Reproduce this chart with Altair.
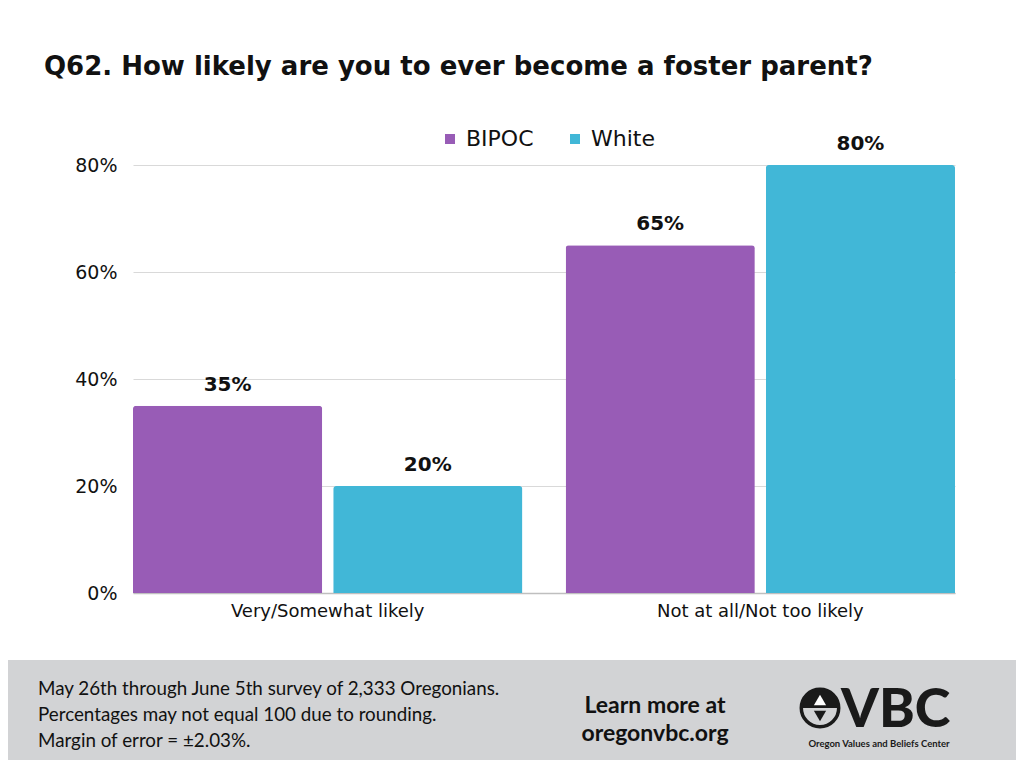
import altair as alt
import pandas as pd

categories = ["Very/Somewhat likely", "Not at all/Not too likely"]
groups = ["BIPOC", "White"]
bipoc = [0.35, 0.65]
white = [0.20, 0.80]
colors = ["#985CB6", "#41B7D7"]
y_ticks = [0, 0.2, 0.4, 0.6, 0.8]

title_text = "Q62. How likely are you to ever become a foster parent?"
footer_left = "May 26th through June 5th survey of 2,333 Oregonians.\nPercentages may not equal 100 due to rounding.\nMargin of error = \u00b12.03%."
footer_mid = "Learn more at\noregonvbc.org"

rows = []
for i, c in enumerate(categories):
    rows.append({"category": c, "group": "BIPOC", "value": bipoc[i]})
    rows.append({"category": c, "group": "White", "value": white[i]})
df = pd.DataFrame(rows)

FONT = "DejaVu Sans"
FOOT = "Lato"
W, H = 822, 428

base = alt.Chart(df).encode(
    x=alt.X("category:N", sort=categories,
            scale=alt.Scale(paddingInner=0.1, paddingOuter=0),
            axis=alt.Axis(title=None, labelAngle=0, labelFontSize=18, labelFont=FONT,
                          labelColor="#111111", labelPadding=9, ticks=False, labelLimit=0,
                          domainColor="#BFBFBF", domainWidth=1.5)),
    xOffset=alt.XOffset("group:N", sort=groups, scale=alt.Scale(paddingInner=0.055)),
    y=alt.Y("value:Q", scale=alt.Scale(domain=[0, 0.8]),
            axis=alt.Axis(title=None, format=".0%", values=y_ticks, labelFontSize=19,
                          labelFont=FONT, labelColor="#111111", labelPadding=16,
                          ticks=False, domain=False, gridColor="#D9D9D9", gridWidth=1)),
)

bars = base.mark_bar(cornerRadiusTopLeft=3, cornerRadiusTopRight=3).encode(
    color=alt.Color("group:N", sort=groups,
                    scale=alt.Scale(domain=groups, range=colors),
                    legend=alt.Legend(title=None, orient="none", direction="horizontal",
                                      legendX=306, legendY=-37, padding=0,
                                      symbolType="square", symbolSize=100,
                                      symbolStrokeWidth=0, labelFontSize=22,
                                      labelFont=FONT, labelColor="#111111",
                                      labelOffset=5, columnPadding=30))
)

labels = base.mark_text(baseline="alphabetic", dy=-15, fontSize=20, fontWeight="bold",
                        font=FONT, color="#111111").encode(
    text=alt.Text("value:Q", format=".0%")
)

one = pd.DataFrame({"k": [0]})

title = alt.Chart(one).mark_text(align="left", baseline="alphabetic", fontSize=26,
                                 fontWeight="bold", font=FONT, color="#111111").encode(
    x=alt.value(-89), y=alt.value(-90), text=alt.value(title_text))

footer_bg = alt.Chart(one).mark_rect(color="#D2D3D5").encode(
    x=alt.value(-125), x2=alt.value(891), y=alt.value(495), y2=alt.value(603))

f_left = alt.Chart(one).mark_text(align="left", baseline="alphabetic", fontSize=18.8,
                                  font=FOOT, color="#111111", lineBreak="\n",
                                  lineHeight=26).encode(
    x=alt.value(-95), y=alt.value(530), text=alt.value(footer_left))

f_mid = alt.Chart(one).mark_text(align="center", baseline="alphabetic", fontSize=23,
                                 fontWeight="bold", font=FOOT, color="#111111",
                                 lineBreak="\n", lineHeight=28).encode(
    x=alt.value(522), y=alt.value(548), text=alt.value(footer_mid))

logo_top = alt.Chart(one).mark_arc(radius=18, theta=4.712, theta2=7.854,
                                   color="#1A1A1A").encode(
    x=alt.value(687), y=alt.value(543))
logo_circle = alt.Chart(one).mark_point(shape="circle", size=1400, filled=False,
                                        strokeWidth=3.5, color="#1A1A1A", opacity=1).encode(
    x=alt.value(687), y=alt.value(543))
logo_tree = alt.Chart(one).mark_point(shape="triangle-up", size=150, filled=True,
                                      color="white", opacity=1).encode(
    x=alt.value(687), y=alt.value(535))
logo_tree2 = alt.Chart(one).mark_point(shape="triangle-down", size=150, filled=True,
                                       color="#1A1A1A", opacity=1).encode(
    x=alt.value(687), y=alt.value(551))
logo_vbc = alt.Chart(one).mark_text(align="left", baseline="alphabetic", fontSize=54,
                                    fontWeight=900, font=FOOT, color="#1A1A1A").encode(
    x=alt.value(708), y=alt.value(562), text=alt.value("VBC"))
logo_tag = alt.Chart(one).mark_text(align="center", baseline="alphabetic", fontSize=9.5,
                                    fontWeight="bold", font=FOOT, color="#1A1A1A").encode(
    x=alt.value(746), y=alt.value(582), text=alt.value("Oregon Values and Beliefs Center"))

chart = alt.layer(
    bars, labels, title, footer_bg, f_left, f_mid,
    logo_top, logo_circle, logo_tree, logo_tree2, logo_vbc, logo_tag
).properties(
    width=W, height=H,
    autosize=alt.AutoSizeParams(type="none"),
    padding={"left": 125, "top": 157, "right": 61, "bottom": 167},
    background="white",
).configure_view(stroke=None)

chart.save("out.html", embed_options={"renderer": "svg", "actions": False})
